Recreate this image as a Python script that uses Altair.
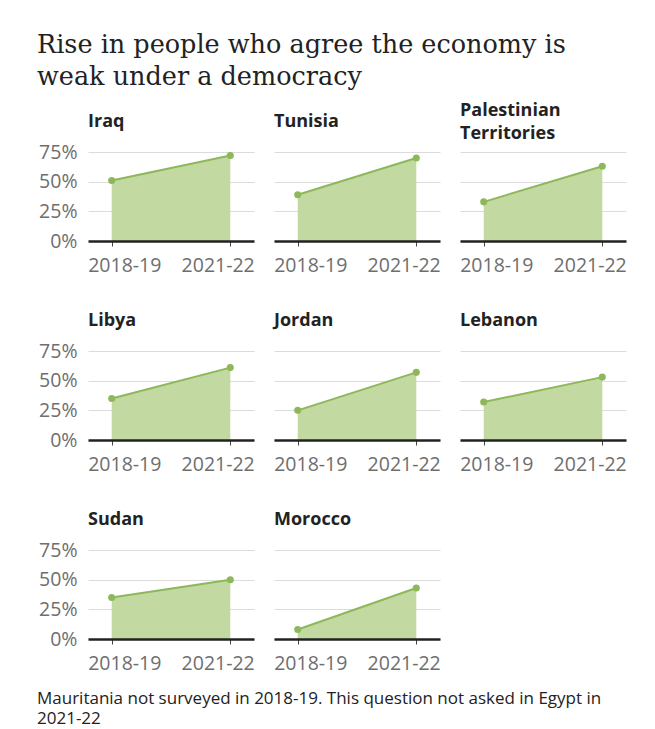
import altair as alt
import pandas as pd

# ---- data ----
title_lines = ["Rise in people who agree the economy is", "weak under a democracy"]
countries = ["Iraq", "Tunisia", "Palestinian Territories", "Libya", "Jordan",
             "Lebanon", "Sudan", "Morocco"]
panel_titles = ["Iraq", "Tunisia", "Palestinian\nTerritories", "Libya", "Jordan",
                "Lebanon", "Sudan", "Morocco"]
periods = ["2018-19", "2021-22"]
pct_2018_19 = [51, 39, 33, 35, 25, 32, 35, 8]
pct_2021_22 = [72, 70, 63, 61, 57, 53, 50, 43]
y_ticks = [0, 25, 50, 75]
footer_lines = ["Mauritania not surveyed in 2018-19. This question not asked in Egypt in",
                "2021-22"]

# ---- style ----
FONT = "Open Sans"
SERIF = "DejaVu Serif"
FILL = "#c3d9a2"
LINE = "#8db85a"
GREY = "#6e6e6e"
DARK = "#222222"
W, H = 166, 89
TITLE_LH = 23


def panel(i):
    df = pd.DataFrame({"period": periods,
                       "pct": [pct_2018_19[i], pct_2021_22[i]]})
    col = i % 3
    x = alt.X("period:O", sort=periods,
              scale=alt.Scale(type="point", padding=0.2),
              axis=alt.Axis(title=None, labelAngle=0, domainColor=DARK,
                            domainWidth=2.5, tickColor="#444444", tickSize=5,
                            tickWidth=1, labelPadding=10, labelFlush=30,
                            labelFlushOffset=24, labelColor=GREY,
                            labelFontSize=19.5, labelFont=FONT, zindex=1,
                            grid=False))
    y = alt.Y("pct:Q",
              scale=alt.Scale(domain=[0, 75], nice=False, zero=True),
              axis=alt.Axis(title=None, values=y_ticks,
                            labelExpr="datum.value + '%'", labels=(col == 0),
                            domain=False, ticks=False, gridColor="#dcdcdc",
                            gridWidth=1, labelPadding=11, labelColor=GREY,
                            labelFontSize=19.5, labelFont=FONT))
    base = alt.Chart(df).encode(x=x, y=y)
    area = base.mark_area(color=FILL, opacity=1)
    line = base.mark_line(color=LINE, strokeWidth=2)
    pts = base.mark_circle(color=LINE, size=50, opacity=1)
    n_lines = panel_titles[i].count("\n") + 1
    name = alt.Chart(pd.DataFrame({"name": [panel_titles[i]]})).mark_text(
        align="left", baseline="middle", font=FONT, fontSize=18,
        fontWeight="bold", color=DARK, lineBreak="\n", lineHeight=TITLE_LH
    ).encode(x=alt.value(0), y=alt.value(-30 - (n_lines - 1) * TITLE_LH / 2),
             text="name:N")
    layers = [area, line, pts, name]
    if i == 0:
        ttl = alt.Chart(pd.DataFrame({"t": ["\n".join(title_lines)]})).mark_text(
            align="left", baseline="alphabetic", font=SERIF, fontSize=25.5,
            color=DARK, lineBreak="\n", lineHeight=32
        ).encode(x=alt.value(-51), y=alt.value(-99), text="t:N")
        layers.append(ttl)
    if i == 6:
        foot = alt.Chart(pd.DataFrame({"t": ["\n".join(footer_lines)]})).mark_text(
            align="left", baseline="alphabetic", font=FONT, fontSize=17,
            color=DARK, lineBreak="\n", lineHeight=20
        ).encode(x=alt.value(-51), y=alt.value(154), text="t:N")
        layers.append(foot)
    return alt.layer(*layers).properties(width=W, height=H)


chart = alt.concat(
    *[panel(i) for i in range(len(countries))],
    columns=3,
    spacing={"row": 110, "column": 20},
    bounds="flush",
).properties(
    padding={"left": 37, "top": 33, "right": 10, "bottom": 2},
    background="white",
).configure_view(stroke=None)

chart.save("out.html", embed_options={"renderer": "svg", "actions": False})
